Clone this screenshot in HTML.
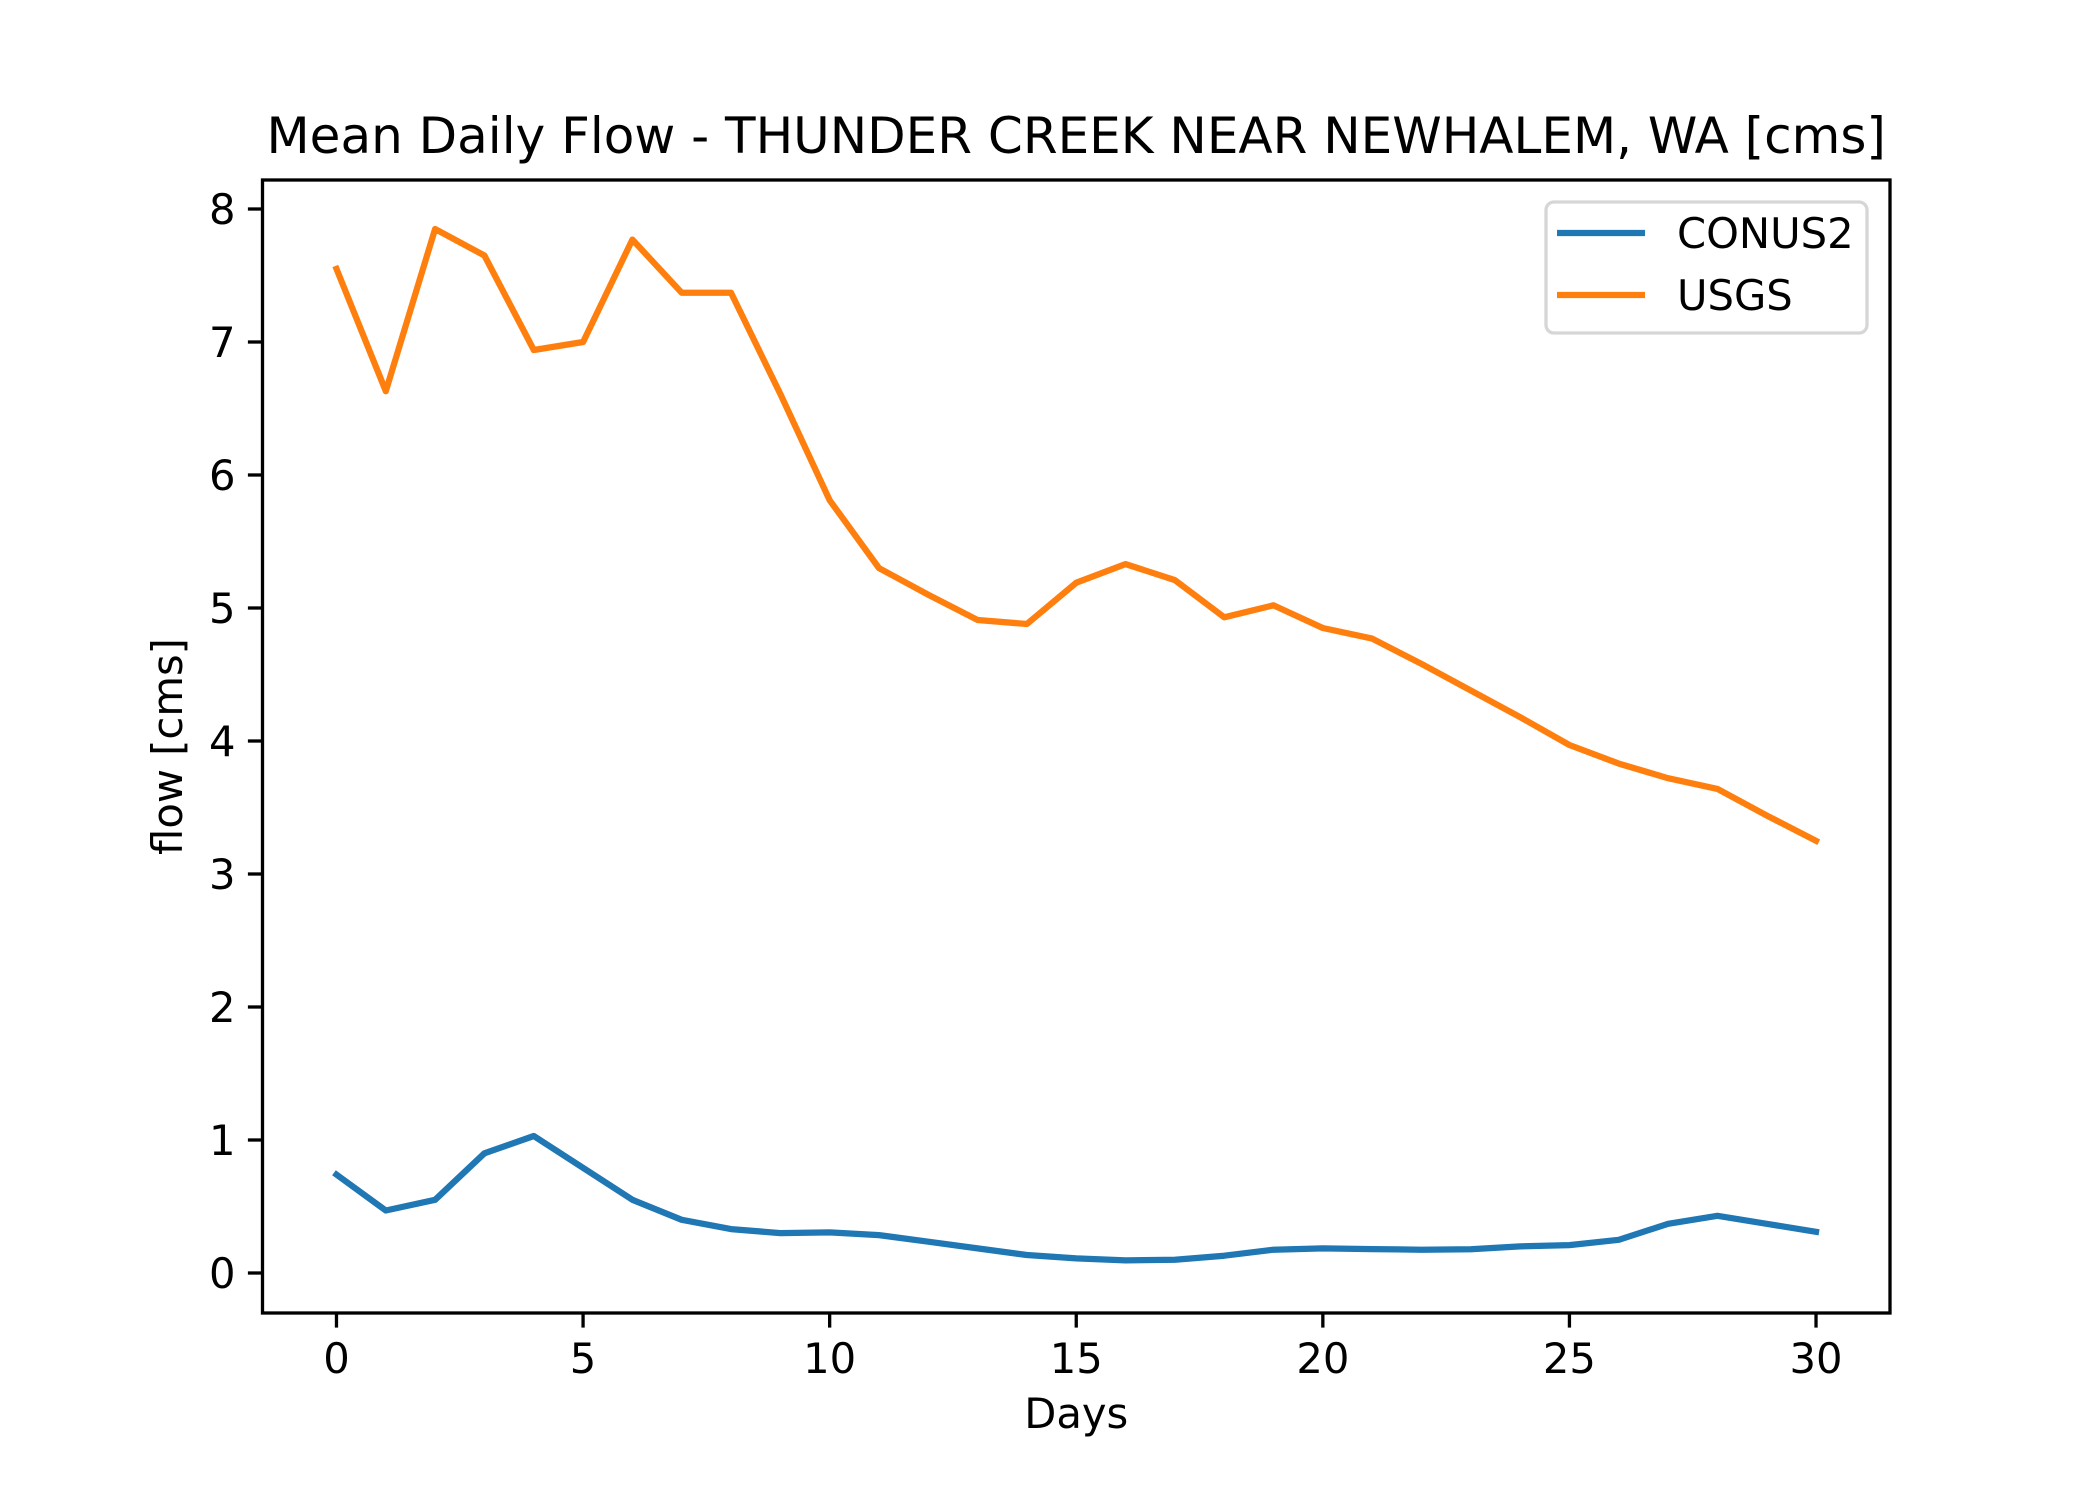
<!DOCTYPE html>
<html><head><meta charset="utf-8"><style>
html,body{margin:0;padding:0;background:#fff;}
svg{display:block;font-family:"DejaVu Sans","Liberation Sans",sans-serif;}
</style></head><body>
<svg id="chart" width="2100" height="1500" viewBox="0 0 2100 1500" xmlns="http://www.w3.org/2000/svg">
<rect width="2100" height="1500" fill="#fff"/>
<g id="plot"></g>
</svg>
<script>
const days = [0,1,2,3,4,5,6,7,8,9,10,11,12,13,14,15,16,17,18,19,20,21,22,23,24,25,26,27,28,29,30];
const usgsValues = [7.55,6.63,7.85,7.65,6.94,7.0,7.77,7.37,7.37,6.61,5.81,5.30,5.10,4.91,4.88,5.19,5.33,5.21,4.93,5.02,4.85,4.77,4.58,4.38,4.18,3.97,3.83,3.72,3.64,3.44,3.25];
const conus2Values = [0.74,0.47,0.55,0.90,1.03,0.79,0.55,0.40,0.33,0.30,0.305,0.285,0.235,0.185,0.135,0.11,0.095,0.10,0.13,0.175,0.185,0.18,0.175,0.178,0.20,0.21,0.25,0.37,0.43,0.37,0.31];
const xTicks = [0,5,10,15,20,25,30];
const yTicks = [0,1,2,3,4,5,6,7,8];

const L=262.5,R=1890,T=180,B=1313;
const xMin=-1.5,xMax=31.5;
const yMin=-0.2979,yMax=8.2180;
const X=v=>L+(v-xMin)/(xMax-xMin)*(R-L);
const Y=v=>1273-v*133;
const NS='http://www.w3.org/2000/svg';
const g=document.getElementById('plot');
function el(tag,attrs,parent){const e=document.createElementNS(NS,tag);for(const k in attrs)e.setAttribute(k,attrs[k]);(parent||g).appendChild(e);return e;}

// series
function series(vals,color,name){
  const p=el('polyline',{points:days.map((d,i)=>X(d).toFixed(1)+','+Y(vals[i]).toFixed(1)).join(' '),fill:'none',stroke:color,'stroke-width':6.25,'stroke-linejoin':'round','stroke-linecap':'square'});
  
  
}
series(conus2Values,'#1f77b4','conus2-line');
series(usgsValues,'#ff7f0e','usgs-line');

// axes frame
const frame=el('rect',{x:L,y:T,width:R-L,height:B-T,fill:'none',stroke:'#000','stroke-width':3.3});



// x ticks
xTicks.forEach(t=>{
  const x=X(t);
  const tk=el('line',{x1:x,x2:x,y1:B,y2:B+14.6,stroke:'#000','stroke-width':3.3});
  
  
  const tx=el('text',{x:x,y:1373,'font-size':41.7,'text-anchor':'middle',fill:'#000'});
  tx.textContent=t;
  
  
});
// y ticks
yTicks.forEach(t=>{
  const y=Y(t);
  const tk=el('line',{x1:L-14.6,x2:L,y1:y,y2:y,stroke:'#000','stroke-width':3.3});
  
  
  const tx=el('text',{x:L-27,y:y+15,'font-size':41.7,'text-anchor':'end',fill:'#000'});
  tx.textContent=t;
  
  
});

// labels
const title=el('text',{x:(L+R)/2,y:153,'font-size':50,'text-anchor':'middle',fill:'#000'});
title.textContent='Mean Daily Flow - THUNDER CREEK NEAR NEWHALEM, WA [cms]';


const xl=el('text',{x:(L+R)/2,y:1428,'font-size':41.7,'text-anchor':'middle',fill:'#000'});
xl.textContent='Days';


const yl=el('text',{x:0,y:0,'font-size':41.7,'text-anchor':'middle',fill:'#000',transform:'translate(182,'+((T+B)/2)+') rotate(-90)'});
yl.textContent='flow [cms]';



// legend
const lg=el('g',{});


el('rect',{x:1546,y:202,width:321,height:131,rx:8,fill:'#fff','fill-opacity':0.8,stroke:'#d6d6d6','stroke-width':3.3},lg);
[['CONUS2','#1f77b4',233],['USGS','#ff7f0e',295]].forEach(([n,c,y])=>{
  const e=el('g',{},lg);
  
  
  el('line',{x1:1557,x2:1645,y1:y,y2:y,stroke:c,'stroke-width':6.25},e);
  const t=el('text',{x:1677,y:y+15,'font-size':41.7,fill:'#000'},e);
  t.textContent=n;
});
</script>
</body></html>
